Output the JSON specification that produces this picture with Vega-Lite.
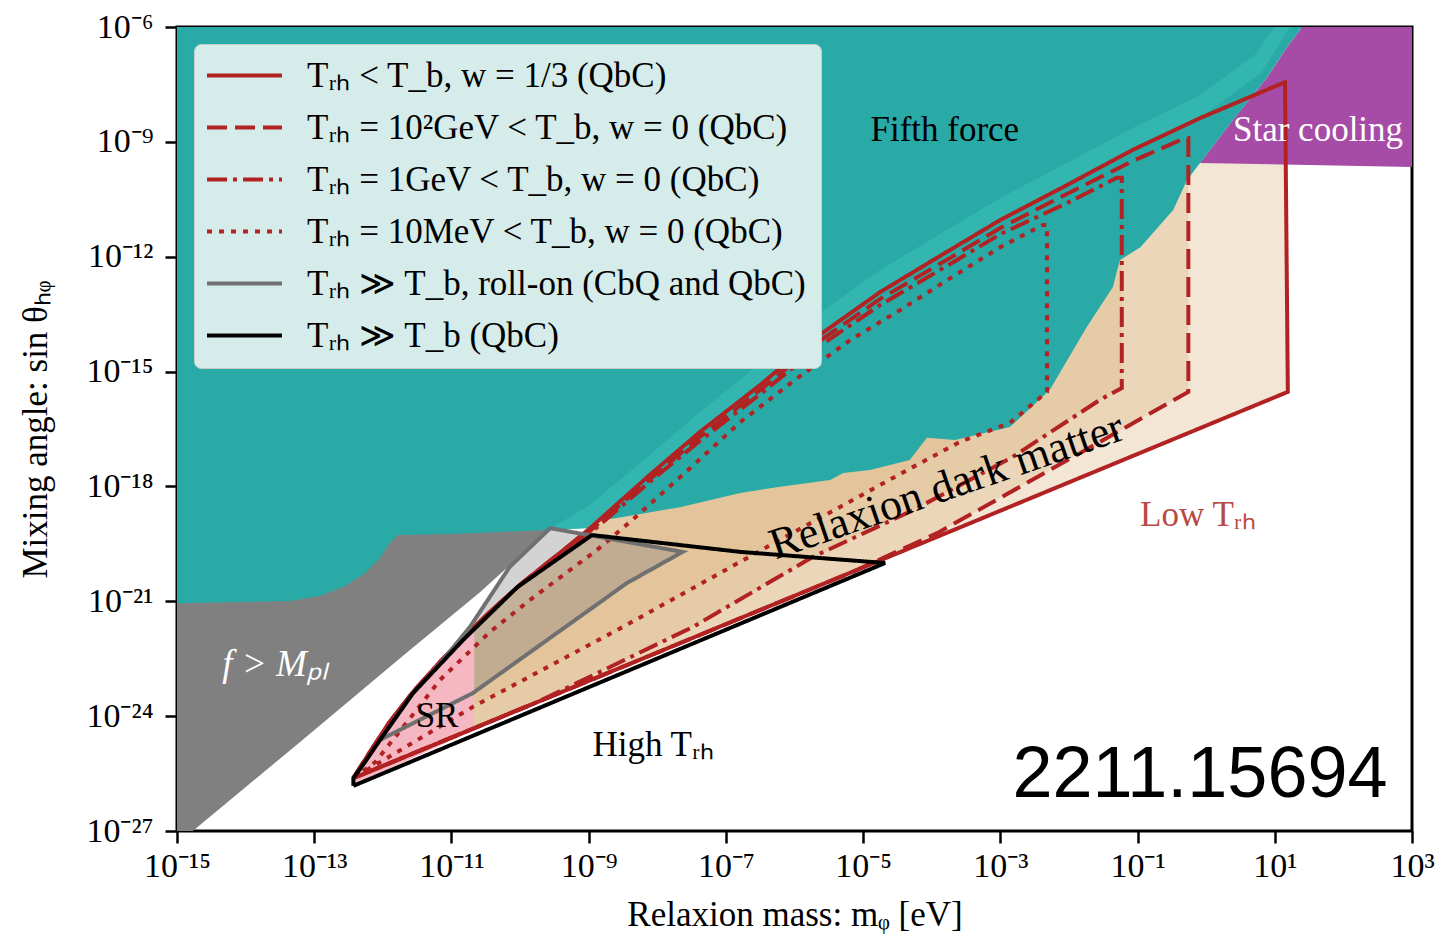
{
  "$schema": "https://vega.github.io/schema/vega-lite/v6.json",
  "width": 1235,
  "height": 804,
  "autosize": {"type": "none"},
  "padding": {"left": 177, "top": 27, "right": 30, "bottom": 105},
  "background": "white",
  "config": {
    "view": {"stroke": "black", "strokeWidth": 3},
    "axis": {
      "domain": false, "grid": false,
      "tickColor": "black", "tickWidth": 2.5, "tickSize": 12,
      "labelFont": "Liberation Serif", "labelFontSize": 34, "labelColor": "black",
      "labelFlush": false, "labelOverlap": false, "labelPadding": 6,
      "titleFont": "Liberation Serif", "titleFontSize": 35, "titleFontWeight": "normal", "titleColor": "black"
    }
  },
  "datasets": {
    "teal": [
      {"i":0,"x":1e-15,"y":1e-6},{"i":1,"x":1e-15,"y":8.91e-22},{"i":2,"x":4.47e-14,"y":1.02e-21},{"i":3,"x":1.2e-13,"y":1.38e-21},
      {"i":4,"x":2.82e-13,"y":2.51e-21},{"i":5,"x":5.5e-13,"y":5.5e-21},{"i":6,"x":9.12e-13,"y":1.35e-20},{"i":7,"x":1.26e-12,"y":3.31e-20},
      {"i":8,"x":1.66e-12,"y":5.37e-20},{"i":9,"x":9.55e-12,"y":5.75e-20},{"i":10,"x":2.57e-10,"y":7.24e-20},{"i":11,"x":1.05e-9,"y":1.17e-19},
      {"i":12,"x":3.16e-9,"y":1.58e-19},{"i":13,"x":2.14e-8,"y":2.88e-19},{"i":14,"x":1.62e-7,"y":6.76e-19},{"i":15,"x":6.17e-7,"y":9.77e-19},
      {"i":16,"x":3.31e-6,"y":1.48e-18},{"i":17,"x":5.13e-6,"y":2.24e-18},{"i":18,"x":1.26e-5,"y":2.69e-18},{"i":19,"x":4.79e-5,"y":4.9e-18},
      {"i":20,"x":8.51e-5,"y":1.86e-17},{"i":21,"x":2.19e-4,"y":1.62e-17},{"i":22,"x":1.38e-3,"y":3.55e-17},{"i":23,"x":5.25e-3,"y":3.31e-16},
      {"i":24,"x":1.82e-2,"y":1.45e-14},{"i":25,"x":4.37e-2,"y":1.62e-13},{"i":26,"x":5.5e-2,"y":8.13e-13},{"i":27,"x":0.11,"y":1.78e-12},
      {"i":28,"x":0.331,"y":1.66e-11},{"i":29,"x":0.525,"y":1e-10},{"i":30,"x":0.813,"y":2.82e-10},{"i":31,"x":2.45,"y":3.72e-9},
      {"i":32,"x":7.76,"y":4.9e-8},{"i":33,"x":15.1,"y":3.02e-7},{"i":34,"x":25.1,"y":1e-6}
    ],
    "purple": [
      {"i":0,"x":0.813,"y":2.82e-10},{"i":1,"x":2.45,"y":3.72e-9},{"i":2,"x":7.76,"y":4.9e-8},{"i":3,"x":15.1,"y":3.02e-7},
      {"i":4,"x":25.1,"y":1e-6},{"i":5,"x":1000,"y":1e-6},{"i":6,"x":1000,"y":2.19e-10}
    ],
    "grayreg": [
      {"i":0,"x":1e-15,"y":1e-27},{"i":1,"x":1.7e-15,"y":1e-27},{"i":2,"x":6.17e-14,"y":2.09e-25},{"i":3,"x":1.95e-12,"y":3.72e-23},
      {"i":4,"x":2.63e-11,"y":1.74e-21},{"i":5,"x":2.57e-10,"y":7.24e-20},{"i":6,"x":2.57e-10,"y":1e-17},{"i":7,"x":1e-15,"y":1e-17}
    ],
    "band": [
      {"i":0,"x":2.57e-10,"y":7.24e-20},{"i":1,"x":1.05e-9,"y":3.31e-19},{"i":2,"x":7.76e-9,"y":6.61e-18},{"i":3,"x":4.17e-8,"y":8.71e-17},
      {"i":4,"x":3.16e-7,"y":1.66e-15},{"i":5,"x":2.34e-6,"y":3.39e-14},{"i":6,"x":1.78e-5,"y":4.47e-13},{"i":7,"x":1.86e-4,"y":5.62e-12},
      {"i":8,"x":1e-3,"y":3.39e-11},{"i":9,"x":9.33e-3,"y":2.82e-10},{"i":10,"x":8.51e-2,"y":2.29e-9},{"i":11,"x":0.813,"y":1.66e-8},
      {"i":12,"x":5.13,"y":1.86e-7},{"i":13,"x":10,"y":1e-6},{"i":14,"x":16.6,"y":1e-6},{"i":15,"x":6.46,"y":6.61e-8},
      {"i":16,"x":0.813,"y":4.17e-9},{"i":17,"x":8.51e-2,"y":6.17e-10},{"i":18,"x":9.33e-3,"y":7.41e-11},{"i":19,"x":1e-3,"y":9.12e-12},
      {"i":20,"x":1.86e-4,"y":1.51e-12},{"i":21,"x":1.78e-5,"y":1.2e-13},{"i":22,"x":2.34e-6,"y":9.12e-15},{"i":23,"x":3.16e-7,"y":4.47e-16},
      {"i":24,"x":4.17e-8,"y":2.63e-17},{"i":25,"x":7.76e-9,"y":2e-18},{"i":26,"x":1.05e-9,"y":8.13e-20}
    ],
    "tanS": [
      {"i":0,"x":2.14e-11,"y":2e-22},{"i":1,"x":3.63e-11,"y":5.25e-22},{"i":2,"x":1e-10,"y":2.69e-21},{"i":3,"x":3.24e-10,"y":1.45e-20},
      {"i":4,"x":1.05e-9,"y":8.13e-20},{"i":5,"x":7.76e-9,"y":2e-18},{"i":6,"x":4.17e-8,"y":2.63e-17},{"i":7,"x":3.16e-7,"y":4.47e-16},
      {"i":8,"x":2.34e-6,"y":9.12e-15},{"i":9,"x":1.78e-5,"y":1.2e-13},{"i":10,"x":1.86e-4,"y":1.51e-12},{"i":11,"x":1e-3,"y":9.12e-12},
      {"i":12,"x":9.33e-3,"y":7.41e-11},{"i":13,"x":8.51e-2,"y":6.17e-10},{"i":14,"x":0.813,"y":4.17e-9},{"i":15,"x":14.1,"y":3.63e-8},
      {"i":16,"x":15.5,"y":2.95e-16},{"i":17,"x":2.14e-11,"y":4.37e-25}
    ],
    "tanD": [
      {"i":0,"x":2.14e-11,"y":2e-22},{"i":1,"x":3.63e-11,"y":5.25e-22},{"i":2,"x":1e-10,"y":2.69e-21},{"i":3,"x":3.24e-10,"y":1.45e-20},
      {"i":4,"x":1.05e-9,"y":6.92e-20},{"i":5,"x":7.76e-9,"y":1.55e-18},{"i":6,"x":4.17e-8,"y":1.95e-17},{"i":7,"x":3.16e-7,"y":3.31e-16},
      {"i":8,"x":2.34e-6,"y":6.31e-15},{"i":9,"x":1.78e-5,"y":7.94e-14},{"i":10,"x":1.86e-4,"y":9.33e-13},{"i":11,"x":1e-3,"y":5.62e-12},
      {"i":12,"x":9.33e-3,"y":4.37e-11},{"i":13,"x":8.51e-2,"y":3.16e-10},{"i":14,"x":0.49,"y":1.26e-9},{"i":15,"x":0.55,"y":1.26e-9},
      {"i":16,"x":0.55,"y":2.95e-16},{"i":17,"x":1.45e-2,"y":7.41e-18},{"i":18,"x":1.2e-4,"y":6.03e-20},{"i":19,"x":7.08e-6,"y":5.89e-21},
      {"i":20,"x":2.14e-11,"y":4.37e-25}
    ],
    "tanDD": [
      {"i":0,"x":2.14e-11,"y":2e-22},{"i":1,"x":3.63e-11,"y":5.25e-22},{"i":2,"x":1e-10,"y":2.69e-21},{"i":3,"x":3.24e-10,"y":1.45e-20},
      {"i":4,"x":1.05e-9,"y":6.03e-20},{"i":5,"x":7.76e-9,"y":1.32e-18},{"i":6,"x":4.17e-8,"y":1.55e-17},{"i":7,"x":3.16e-7,"y":2.57e-16},
      {"i":8,"x":2.34e-6,"y":4.68e-15},{"i":9,"x":1.78e-5,"y":5.5e-14},{"i":10,"x":1.86e-4,"y":6.46e-13},{"i":11,"x":1e-3,"y":3.89e-12},
      {"i":12,"x":9.33e-3,"y":2.51e-11},{"i":13,"x":5.01e-2,"y":1.15e-10},{"i":14,"x":5.89e-2,"y":1.15e-10},{"i":15,"x":5.89e-2,"y":3.72e-16},
      {"i":16,"x":2.82e-2,"y":1.82e-16},{"i":17,"x":1.51e-3,"y":5.89e-18},{"i":18,"x":5.37e-5,"y":2.4e-19},{"i":19,"x":1.86e-6,"y":1.45e-20},
      {"i":20,"x":3.31e-8,"y":2.14e-22},{"i":21,"x":1.95e-10,"y":2.51e-24},{"i":22,"x":2.14e-11,"y":4.37e-25}
    ],
    "tanDo": [
      {"i":0,"x":2.14e-11,"y":6.46e-23},{"i":1,"x":3.63e-11,"y":1.58e-22},{"i":2,"x":1.38e-10,"y":1.07e-21},{"i":3,"x":1.32e-9,"y":2.19e-20},
      {"i":4,"x":3.98e-9,"y":1.17e-19},{"i":5,"x":3.02e-8,"y":3.02e-18},{"i":6,"x":1.62e-7,"y":4.79e-17},{"i":7,"x":1.1e-6,"y":6.76e-16},
      {"i":8,"x":6.46e-6,"y":6.61e-15},{"i":9,"x":3.47e-5,"y":4.07e-14},{"i":10,"x":1.86e-4,"y":2.75e-13},{"i":11,"x":1e-3,"y":1.78e-12},
      {"i":12,"x":4.17e-3,"y":6.76e-12},{"i":13,"x":4.79e-3,"y":6.76e-12},{"i":14,"x":4.79e-3,"y":2.95e-16},{"i":15,"x":1.38e-3,"y":4.57e-17},
      {"i":16,"x":2.57e-4,"y":1.45e-17},{"i":17,"x":5.37e-5,"y":3.24e-18},{"i":18,"x":3.98e-7,"y":2.63e-20},{"i":19,"x":3.16e-9,"y":2.14e-22},
      {"i":20,"x":2.14e-11,"y":1.86e-24}
    ],
    "pink": [
      {"i":0,"x":3.72e-13,"y":2.4e-26},{"i":1,"x":5.5e-13,"y":6.31e-26},{"i":2,"x":9.12e-13,"y":2.4e-25},{"i":3,"x":2.75e-12,"y":3.98e-24},
      {"i":4,"x":6.76e-12,"y":2.57e-23},{"i":5,"x":2.14e-11,"y":2e-22},{"i":6,"x":2.14e-11,"y":4.37e-25},{"i":7,"x":3.72e-13,"y":1.58e-26}
    ],
    "grayfill": [
      {"i":0,"x":9.12e-13,"y":2.4e-25},{"i":1,"x":2.75e-12,"y":3.98e-24},{"i":2,"x":6.17e-12,"y":1.91e-23},{"i":3,"x":1.86e-11,"y":2.14e-22},
      {"i":4,"x":7.08e-11,"y":7.94e-21},{"i":5,"x":2.75e-10,"y":8.13e-20},{"i":6,"x":2.34e-8,"y":1.95e-20},{"i":7,"x":3.63e-9,"y":3.02e-21},
      {"i":8,"x":2.04e-11,"y":3.98e-24}
    ],
    "lines": [
      {"s":"Tᵣₕ < T_b, w = 1/3 (QbC)","i":0,"x":3.72e-13,"y":2.4e-26},
      {"s":"Tᵣₕ < T_b, w = 1/3 (QbC)","i":1,"x":6.46e-13,"y":1.15e-25},
      {"s":"Tᵣₕ < T_b, w = 1/3 (QbC)","i":2,"x":1.26e-12,"y":7.08e-25},
      {"s":"Tᵣₕ < T_b, w = 1/3 (QbC)","i":3,"x":2.75e-12,"y":4.27e-24},
      {"s":"Tᵣₕ < T_b, w = 1/3 (QbC)","i":4,"x":6.76e-12,"y":2.57e-23},
      {"s":"Tᵣₕ < T_b, w = 1/3 (QbC)","i":5,"x":1.48e-11,"y":1.1e-22},
      {"s":"Tᵣₕ < T_b, w = 1/3 (QbC)","i":6,"x":3.63e-11,"y":5.25e-22},
      {"s":"Tᵣₕ < T_b, w = 1/3 (QbC)","i":7,"x":1e-10,"y":2.69e-21},
      {"s":"Tᵣₕ < T_b, w = 1/3 (QbC)","i":8,"x":3.24e-10,"y":1.45e-20},
      {"s":"Tᵣₕ < T_b, w = 1/3 (QbC)","i":9,"x":1.05e-9,"y":8.13e-20},
      {"s":"Tᵣₕ < T_b, w = 1/3 (QbC)","i":10,"x":7.76e-9,"y":2e-18},
      {"s":"Tᵣₕ < T_b, w = 1/3 (QbC)","i":11,"x":4.17e-8,"y":2.63e-17},
      {"s":"Tᵣₕ < T_b, w = 1/3 (QbC)","i":12,"x":3.16e-7,"y":4.47e-16},
      {"s":"Tᵣₕ < T_b, w = 1/3 (QbC)","i":13,"x":2.34e-6,"y":9.12e-15},
      {"s":"Tᵣₕ < T_b, w = 1/3 (QbC)","i":14,"x":1.78e-5,"y":1.2e-13},
      {"s":"Tᵣₕ < T_b, w = 1/3 (QbC)","i":15,"x":1.86e-4,"y":1.51e-12},
      {"s":"Tᵣₕ < T_b, w = 1/3 (QbC)","i":16,"x":1e-3,"y":9.12e-12},
      {"s":"Tᵣₕ < T_b, w = 1/3 (QbC)","i":17,"x":9.33e-3,"y":7.41e-11},
      {"s":"Tᵣₕ < T_b, w = 1/3 (QbC)","i":18,"x":8.51e-2,"y":6.17e-10},
      {"s":"Tᵣₕ < T_b, w = 1/3 (QbC)","i":19,"x":0.813,"y":4.17e-9},
      {"s":"Tᵣₕ < T_b, w = 1/3 (QbC)","i":20,"x":14.1,"y":3.63e-8},
      {"s":"Tᵣₕ < T_b, w = 1/3 (QbC)","i":21,"x":15.5,"y":2.95e-16},
      {"s":"Tᵣₕ < T_b, w = 1/3 (QbC)","i":22,"x":3.72e-13,"y":2.4e-26},

      {"s":"Tᵣₕ = 10²GeV < T_b, w = 0 (QbC)","i":0,"x":3.72e-13,"y":2.4e-26},
      {"s":"Tᵣₕ = 10²GeV < T_b, w = 0 (QbC)","i":1,"x":6.46e-13,"y":1.15e-25},
      {"s":"Tᵣₕ = 10²GeV < T_b, w = 0 (QbC)","i":2,"x":1.26e-12,"y":7.08e-25},
      {"s":"Tᵣₕ = 10²GeV < T_b, w = 0 (QbC)","i":3,"x":2.75e-12,"y":4.27e-24},
      {"s":"Tᵣₕ = 10²GeV < T_b, w = 0 (QbC)","i":4,"x":6.76e-12,"y":2.57e-23},
      {"s":"Tᵣₕ = 10²GeV < T_b, w = 0 (QbC)","i":5,"x":1.48e-11,"y":1.1e-22},
      {"s":"Tᵣₕ = 10²GeV < T_b, w = 0 (QbC)","i":6,"x":3.63e-11,"y":5.25e-22},
      {"s":"Tᵣₕ = 10²GeV < T_b, w = 0 (QbC)","i":7,"x":1e-10,"y":2.69e-21},
      {"s":"Tᵣₕ = 10²GeV < T_b, w = 0 (QbC)","i":8,"x":3.24e-10,"y":1.45e-20},
      {"s":"Tᵣₕ = 10²GeV < T_b, w = 0 (QbC)","i":9,"x":1.05e-9,"y":6.92e-20},
      {"s":"Tᵣₕ = 10²GeV < T_b, w = 0 (QbC)","i":10,"x":7.76e-9,"y":1.55e-18},
      {"s":"Tᵣₕ = 10²GeV < T_b, w = 0 (QbC)","i":11,"x":4.17e-8,"y":1.95e-17},
      {"s":"Tᵣₕ = 10²GeV < T_b, w = 0 (QbC)","i":12,"x":3.16e-7,"y":3.31e-16},
      {"s":"Tᵣₕ = 10²GeV < T_b, w = 0 (QbC)","i":13,"x":2.34e-6,"y":6.31e-15},
      {"s":"Tᵣₕ = 10²GeV < T_b, w = 0 (QbC)","i":14,"x":1.78e-5,"y":7.94e-14},
      {"s":"Tᵣₕ = 10²GeV < T_b, w = 0 (QbC)","i":15,"x":1.86e-4,"y":9.33e-13},
      {"s":"Tᵣₕ = 10²GeV < T_b, w = 0 (QbC)","i":16,"x":1e-3,"y":5.62e-12},
      {"s":"Tᵣₕ = 10²GeV < T_b, w = 0 (QbC)","i":17,"x":9.33e-3,"y":4.37e-11},
      {"s":"Tᵣₕ = 10²GeV < T_b, w = 0 (QbC)","i":18,"x":8.51e-2,"y":3.16e-10},
      {"s":"Tᵣₕ = 10²GeV < T_b, w = 0 (QbC)","i":19,"x":0.49,"y":1.26e-9},
      {"s":"Tᵣₕ = 10²GeV < T_b, w = 0 (QbC)","i":20,"x":0.55,"y":1.26e-9},
      {"s":"Tᵣₕ = 10²GeV < T_b, w = 0 (QbC)","i":21,"x":0.55,"y":2.95e-16},
      {"s":"Tᵣₕ = 10²GeV < T_b, w = 0 (QbC)","i":22,"x":1.45e-2,"y":7.41e-18},
      {"s":"Tᵣₕ = 10²GeV < T_b, w = 0 (QbC)","i":23,"x":1.2e-4,"y":6.03e-20},
      {"s":"Tᵣₕ = 10²GeV < T_b, w = 0 (QbC)","i":24,"x":7.08e-6,"y":5.89e-21},
      {"s":"Tᵣₕ = 10²GeV < T_b, w = 0 (QbC)","i":25,"x":3.72e-13,"y":2.4e-26},

      {"s":"Tᵣₕ = 1GeV < T_b, w = 0 (QbC)","i":0,"x":3.72e-13,"y":2.4e-26},
      {"s":"Tᵣₕ = 1GeV < T_b, w = 0 (QbC)","i":1,"x":6.46e-13,"y":1.15e-25},
      {"s":"Tᵣₕ = 1GeV < T_b, w = 0 (QbC)","i":2,"x":1.26e-12,"y":7.08e-25},
      {"s":"Tᵣₕ = 1GeV < T_b, w = 0 (QbC)","i":3,"x":2.75e-12,"y":4.27e-24},
      {"s":"Tᵣₕ = 1GeV < T_b, w = 0 (QbC)","i":4,"x":6.76e-12,"y":2.57e-23},
      {"s":"Tᵣₕ = 1GeV < T_b, w = 0 (QbC)","i":5,"x":1.48e-11,"y":1.1e-22},
      {"s":"Tᵣₕ = 1GeV < T_b, w = 0 (QbC)","i":6,"x":3.63e-11,"y":5.25e-22},
      {"s":"Tᵣₕ = 1GeV < T_b, w = 0 (QbC)","i":7,"x":1e-10,"y":2.69e-21},
      {"s":"Tᵣₕ = 1GeV < T_b, w = 0 (QbC)","i":8,"x":3.24e-10,"y":1.45e-20},
      {"s":"Tᵣₕ = 1GeV < T_b, w = 0 (QbC)","i":9,"x":1.05e-9,"y":6.03e-20},
      {"s":"Tᵣₕ = 1GeV < T_b, w = 0 (QbC)","i":10,"x":7.76e-9,"y":1.32e-18},
      {"s":"Tᵣₕ = 1GeV < T_b, w = 0 (QbC)","i":11,"x":4.17e-8,"y":1.55e-17},
      {"s":"Tᵣₕ = 1GeV < T_b, w = 0 (QbC)","i":12,"x":3.16e-7,"y":2.57e-16},
      {"s":"Tᵣₕ = 1GeV < T_b, w = 0 (QbC)","i":13,"x":2.34e-6,"y":4.68e-15},
      {"s":"Tᵣₕ = 1GeV < T_b, w = 0 (QbC)","i":14,"x":1.78e-5,"y":5.5e-14},
      {"s":"Tᵣₕ = 1GeV < T_b, w = 0 (QbC)","i":15,"x":1.86e-4,"y":6.46e-13},
      {"s":"Tᵣₕ = 1GeV < T_b, w = 0 (QbC)","i":16,"x":1e-3,"y":3.89e-12},
      {"s":"Tᵣₕ = 1GeV < T_b, w = 0 (QbC)","i":17,"x":9.33e-3,"y":2.51e-11},
      {"s":"Tᵣₕ = 1GeV < T_b, w = 0 (QbC)","i":18,"x":5.01e-2,"y":1.15e-10},
      {"s":"Tᵣₕ = 1GeV < T_b, w = 0 (QbC)","i":19,"x":5.89e-2,"y":1.15e-10},
      {"s":"Tᵣₕ = 1GeV < T_b, w = 0 (QbC)","i":20,"x":5.89e-2,"y":3.72e-16},
      {"s":"Tᵣₕ = 1GeV < T_b, w = 0 (QbC)","i":21,"x":2.82e-2,"y":1.82e-16},
      {"s":"Tᵣₕ = 1GeV < T_b, w = 0 (QbC)","i":22,"x":1.51e-3,"y":5.89e-18},
      {"s":"Tᵣₕ = 1GeV < T_b, w = 0 (QbC)","i":23,"x":5.37e-5,"y":2.4e-19},
      {"s":"Tᵣₕ = 1GeV < T_b, w = 0 (QbC)","i":24,"x":1.86e-6,"y":1.45e-20},
      {"s":"Tᵣₕ = 1GeV < T_b, w = 0 (QbC)","i":25,"x":3.31e-8,"y":2.14e-22},
      {"s":"Tᵣₕ = 1GeV < T_b, w = 0 (QbC)","i":26,"x":1.95e-10,"y":2.51e-24},
      {"s":"Tᵣₕ = 1GeV < T_b, w = 0 (QbC)","i":27,"x":3.72e-13,"y":2.4e-26},

      {"s":"Tᵣₕ = 10MeV < T_b, w = 0 (QbC)","i":0,"x":3.72e-13,"y":2.4e-26},
      {"s":"Tᵣₕ = 10MeV < T_b, w = 0 (QbC)","i":1,"x":7.76e-13,"y":6.31e-26},
      {"s":"Tᵣₕ = 10MeV < T_b, w = 0 (QbC)","i":2,"x":2.51e-12,"y":8.91e-25},
      {"s":"Tᵣₕ = 10MeV < T_b, w = 0 (QbC)","i":3,"x":6.76e-12,"y":8.71e-24},
      {"s":"Tᵣₕ = 10MeV < T_b, w = 0 (QbC)","i":4,"x":3.63e-11,"y":1.58e-22},
      {"s":"Tᵣₕ = 10MeV < T_b, w = 0 (QbC)","i":5,"x":1.38e-10,"y":1.07e-21},
      {"s":"Tᵣₕ = 10MeV < T_b, w = 0 (QbC)","i":6,"x":1.32e-9,"y":2.19e-20},
      {"s":"Tᵣₕ = 10MeV < T_b, w = 0 (QbC)","i":7,"x":3.98e-9,"y":1.17e-19},
      {"s":"Tᵣₕ = 10MeV < T_b, w = 0 (QbC)","i":8,"x":3.02e-8,"y":3.02e-18},
      {"s":"Tᵣₕ = 10MeV < T_b, w = 0 (QbC)","i":9,"x":1.62e-7,"y":4.79e-17},
      {"s":"Tᵣₕ = 10MeV < T_b, w = 0 (QbC)","i":10,"x":1.1e-6,"y":6.76e-16},
      {"s":"Tᵣₕ = 10MeV < T_b, w = 0 (QbC)","i":11,"x":6.46e-6,"y":6.61e-15},
      {"s":"Tᵣₕ = 10MeV < T_b, w = 0 (QbC)","i":12,"x":3.47e-5,"y":4.07e-14},
      {"s":"Tᵣₕ = 10MeV < T_b, w = 0 (QbC)","i":13,"x":1.86e-4,"y":2.75e-13},
      {"s":"Tᵣₕ = 10MeV < T_b, w = 0 (QbC)","i":14,"x":1e-3,"y":1.78e-12},
      {"s":"Tᵣₕ = 10MeV < T_b, w = 0 (QbC)","i":15,"x":4.17e-3,"y":6.76e-12},
      {"s":"Tᵣₕ = 10MeV < T_b, w = 0 (QbC)","i":16,"x":4.79e-3,"y":6.76e-12},
      {"s":"Tᵣₕ = 10MeV < T_b, w = 0 (QbC)","i":17,"x":4.79e-3,"y":2.95e-16},
      {"s":"Tᵣₕ = 10MeV < T_b, w = 0 (QbC)","i":18,"x":1.38e-3,"y":4.57e-17},
      {"s":"Tᵣₕ = 10MeV < T_b, w = 0 (QbC)","i":19,"x":2.57e-4,"y":1.45e-17},
      {"s":"Tᵣₕ = 10MeV < T_b, w = 0 (QbC)","i":20,"x":5.37e-5,"y":3.24e-18},
      {"s":"Tᵣₕ = 10MeV < T_b, w = 0 (QbC)","i":21,"x":3.98e-7,"y":2.63e-20},
      {"s":"Tᵣₕ = 10MeV < T_b, w = 0 (QbC)","i":22,"x":3.16e-9,"y":2.14e-22},
      {"s":"Tᵣₕ = 10MeV < T_b, w = 0 (QbC)","i":23,"x":2.04e-11,"y":1.74e-24},
      {"s":"Tᵣₕ = 10MeV < T_b, w = 0 (QbC)","i":24,"x":3.72e-13,"y":2.4e-26},

      {"s":"Tᵣₕ ≫ T_b, roll-on (CbQ and QbC)","i":0,"x":9.12e-13,"y":2.4e-25},
      {"s":"Tᵣₕ ≫ T_b, roll-on (CbQ and QbC)","i":1,"x":2.75e-12,"y":3.98e-24},
      {"s":"Tᵣₕ ≫ T_b, roll-on (CbQ and QbC)","i":2,"x":6.17e-12,"y":1.91e-23},
      {"s":"Tᵣₕ ≫ T_b, roll-on (CbQ and QbC)","i":3,"x":1.86e-11,"y":2.14e-22},
      {"s":"Tᵣₕ ≫ T_b, roll-on (CbQ and QbC)","i":4,"x":7.08e-11,"y":7.94e-21},
      {"s":"Tᵣₕ ≫ T_b, roll-on (CbQ and QbC)","i":5,"x":2.75e-10,"y":8.13e-20},
      {"s":"Tᵣₕ ≫ T_b, roll-on (CbQ and QbC)","i":6,"x":2.34e-8,"y":1.95e-20},
      {"s":"Tᵣₕ ≫ T_b, roll-on (CbQ and QbC)","i":7,"x":3.63e-9,"y":3.02e-21},
      {"s":"Tᵣₕ ≫ T_b, roll-on (CbQ and QbC)","i":8,"x":2.04e-11,"y":3.98e-24},
      {"s":"Tᵣₕ ≫ T_b, roll-on (CbQ and QbC)","i":9,"x":9.12e-13,"y":2.4e-25},

      {"s":"Tᵣₕ ≫ T_b (QbC)","i":0,"x":3.72e-13,"y":1.51e-26},
      {"s":"Tᵣₕ ≫ T_b (QbC)","i":1,"x":3.72e-13,"y":2.4e-26},
      {"s":"Tᵣₕ ≫ T_b (QbC)","i":2,"x":5.5e-13,"y":6.31e-26},
      {"s":"Tᵣₕ ≫ T_b (QbC)","i":3,"x":9.12e-13,"y":2.4e-25},
      {"s":"Tᵣₕ ≫ T_b (QbC)","i":4,"x":2.75e-12,"y":3.98e-24},
      {"s":"Tᵣₕ ≫ T_b (QbC)","i":5,"x":1.48e-11,"y":9.77e-23},
      {"s":"Tᵣₕ ≫ T_b (QbC)","i":6,"x":9.12e-11,"y":2.34e-21},
      {"s":"Tᵣₕ ≫ T_b (QbC)","i":7,"x":1.12e-9,"y":5.37e-20},
      {"s":"Tᵣₕ ≫ T_b (QbC)","i":8,"x":1.62e-7,"y":1.95e-20},
      {"s":"Tᵣₕ ≫ T_b (QbC)","i":9,"x":2.09e-5,"y":1e-20},
      {"s":"Tᵣₕ ≫ T_b (QbC)","i":10,"x":3.72e-13,"y":1.51e-26}
    ],
    "txtBlack": [
      {"x":1.55e-4,"y":2.04e-9,"label":"Fifth force"},
      {"x":6.17e-12,"y":1e-24,"label":"SR"},
      {"x":8.71e-9,"y":1.78e-25,"label":"High Tᵣₕ"}
    ],
    "txtWhite": [
      {"x":42.7,"y":2.04e-9,"label":"Star cooling"}
    ],
    "txtWhiteItalic": [
      {"x":2.69e-14,"y":2.19e-23,"label":"f > Mₚₗ"}
    ],
    "txtRed": [
      {"x":0.759,"y":1.78e-19,"label":"Low Tᵣₕ"}
    ],
    "txtRot": [
      {"x":1.66e-4,"y":9.77e-19,"label":"Relaxion dark matter"}
    ],
    "txtId": [
      {"x":0.813,"y":2.88e-26,"label":"2211.15694"}
    ]
  },
  "encoding": {
    "x": {
      "field": "x", "type": "quantitative",
      "scale": {"type": "log", "domain": [1e-15, 1000], "nice": false},
      "axis": {
        "title": "Relaxion mass: mᵩ [eV]",
        "titlePadding": 14,
        "values": [1e-15, 1e-13, 1e-11, 1e-9, 1e-7, 1e-5, 1e-3, 1e-1, 10, 1000],
        "labelExpr": "'10' + (datum.value < 1 ? '⁻' : '') + (abs(round(log(datum.value)/LN10)) >= 10 ? substring('⁰¹²³⁴⁵⁶⁷⁸⁹', floor(abs(round(log(datum.value)/LN10))/10), floor(abs(round(log(datum.value)/LN10))/10) + 1) : '') + substring('⁰¹²³⁴⁵⁶⁷⁸⁹', abs(round(log(datum.value)/LN10)) % 10, abs(round(log(datum.value)/LN10)) % 10 + 1)"
      }
    },
    "y": {
      "field": "y", "type": "quantitative",
      "scale": {"type": "log", "domain": [1e-27, 1e-6], "nice": false},
      "axis": {
        "title": "Mixing angle: sin θₕᵩ",
        "titlePadding": 32,
        "labelPadding": 12,
        "values": [1e-27, 1e-24, 1e-21, 1e-18, 1e-15, 1e-12, 1e-9, 1e-6],
        "labelExpr": "'10' + (datum.value < 1 ? '⁻' : '') + (abs(round(log(datum.value)/LN10)) >= 10 ? substring('⁰¹²³⁴⁵⁶⁷⁸⁹', floor(abs(round(log(datum.value)/LN10))/10), floor(abs(round(log(datum.value)/LN10))/10) + 1) : '') + substring('⁰¹²³⁴⁵⁶⁷⁸⁹', abs(round(log(datum.value)/LN10)) % 10, abs(round(log(datum.value)/LN10)) % 10 + 1)"
      }
    }
  },
  "layer": [
    {"data": {"name": "tanS"}, "mark": {"type": "line", "fill": "#deb887", "fillOpacity": 0.35, "strokeOpacity": 0, "strokeWidth": 0}, "encoding": {"order": {"field": "i", "type": "quantitative"}}},
    {"data": {"name": "tanD"}, "mark": {"type": "line", "fill": "#deb887", "fillOpacity": 0.35, "strokeOpacity": 0, "strokeWidth": 0}, "encoding": {"order": {"field": "i", "type": "quantitative"}}},
    {"data": {"name": "tanDD"}, "mark": {"type": "line", "fill": "#deb887", "fillOpacity": 0.35, "strokeOpacity": 0, "strokeWidth": 0}, "encoding": {"order": {"field": "i", "type": "quantitative"}}},
    {"data": {"name": "tanDo"}, "mark": {"type": "line", "fill": "#deb887", "fillOpacity": 0.35, "strokeOpacity": 0, "strokeWidth": 0}, "encoding": {"order": {"field": "i", "type": "quantitative"}}},
    {"data": {"name": "purple"}, "mark": {"type": "line", "fill": "#a64ca6", "strokeOpacity": 0, "strokeWidth": 0}, "encoding": {"order": {"field": "i", "type": "quantitative"}}},
    {"data": {"name": "grayreg"}, "mark": {"type": "line", "fill": "#808080", "strokeOpacity": 0, "strokeWidth": 0}, "encoding": {"order": {"field": "i", "type": "quantitative"}}},
    {"data": {"name": "teal"}, "mark": {"type": "line", "fill": "#2aaaa6", "strokeOpacity": 0, "strokeWidth": 0}, "encoding": {"order": {"field": "i", "type": "quantitative"}}},
    {"data": {"name": "band"}, "mark": {"type": "line", "fill": "#34b6b0", "strokeOpacity": 0, "strokeWidth": 0}, "encoding": {"order": {"field": "i", "type": "quantitative"}}},
    {"data": {"name": "grayfill"}, "mark": {"type": "line", "fill": "#808080", "fillOpacity": 0.35, "strokeOpacity": 0, "strokeWidth": 0}, "encoding": {"order": {"field": "i", "type": "quantitative"}}},
    {"data": {"name": "pink"}, "mark": {"type": "line", "fill": "#f5b8c2", "strokeOpacity": 0, "strokeWidth": 0}, "encoding": {"order": {"field": "i", "type": "quantitative"}}},
    {
      "data": {"name": "lines"},
      "mark": {"type": "line", "strokeWidth": 4, "strokeJoin": "miter"},
      "encoding": {
        "order": {"field": "i", "type": "quantitative"},
        "color": {
          "field": "s", "type": "nominal",
          "scale": {
            "domain": ["Tᵣₕ < T_b, w = 1/3 (QbC)", "Tᵣₕ = 10²GeV < T_b, w = 0 (QbC)", "Tᵣₕ = 1GeV < T_b, w = 0 (QbC)", "Tᵣₕ = 10MeV < T_b, w = 0 (QbC)", "Tᵣₕ ≫ T_b, roll-on (CbQ and QbC)", "Tᵣₕ ≫ T_b (QbC)"],
            "range": ["#b22222", "#b22222", "#b22222", "#b22222", "#707070", "#000000"]
          },
          "legend": {
            "title": null, "orient": "top-left", "offset": 17,
            "fillColor": "#d5ecea", "strokeColor": "#c4cccc", "cornerRadius": 7, "padding": 14,
            "symbolType": "M-6,0L6,0", "symbolSize": 156, "symbolStrokeWidth": 4, "symbolOffset": 19,
            "labelFont": "Liberation Serif", "labelFontSize": 35, "labelColor": "black", "labelOffset": 45, "labelLimit": 800,
            "rowPadding": 16
          }
        },
        "strokeDash": {
          "field": "s", "type": "nominal",
          "scale": {
            "domain": ["Tᵣₕ < T_b, w = 1/3 (QbC)", "Tᵣₕ = 10²GeV < T_b, w = 0 (QbC)", "Tᵣₕ = 1GeV < T_b, w = 0 (QbC)", "Tᵣₕ = 10MeV < T_b, w = 0 (QbC)", "Tᵣₕ ≫ T_b, roll-on (CbQ and QbC)", "Tᵣₕ ≫ T_b (QbC)"],
            "range": [[1, 0], [20, 8], [20, 6, 4, 6], [5, 7], [1, 0], [1, 0]]
          },
          "legend": {
            "title": null, "orient": "top-left", "offset": 17,
            "fillColor": "#d5ecea", "strokeColor": "#c4cccc", "cornerRadius": 7, "padding": 14,
            "symbolType": "M-6,0L6,0", "symbolSize": 156, "symbolStrokeWidth": 4, "symbolOffset": 19,
            "labelFont": "Liberation Serif", "labelFontSize": 35, "labelColor": "black", "labelOffset": 45, "labelLimit": 800,
            "rowPadding": 16
          }
        }
      }
    },
    {"data": {"name": "txtBlack"}, "mark": {"type": "text", "font": "Liberation Serif", "fontSize": 35, "color": "black"}, "encoding": {"text": {"field": "label"}}},
    {"data": {"name": "txtWhite"}, "mark": {"type": "text", "font": "Liberation Serif", "fontSize": 35, "color": "white"}, "encoding": {"text": {"field": "label"}}},
    {"data": {"name": "txtWhiteItalic"}, "mark": {"type": "text", "font": "Liberation Serif", "fontSize": 37, "fontStyle": "italic", "color": "white"}, "encoding": {"text": {"field": "label"}}},
    {"data": {"name": "txtRed"}, "mark": {"type": "text", "font": "Liberation Serif", "fontSize": 35, "color": "#b84a45"}, "encoding": {"text": {"field": "label"}}},
    {"data": {"name": "txtRot"}, "mark": {"type": "text", "font": "Liberation Serif", "fontSize": 44, "color": "black", "angle": 341}, "encoding": {"text": {"field": "label"}}},
    {"data": {"name": "txtId"}, "mark": {"type": "text", "font": "Liberation Sans", "fontSize": 72, "color": "black"}, "encoding": {"text": {"field": "label"}}}
  ]
}
